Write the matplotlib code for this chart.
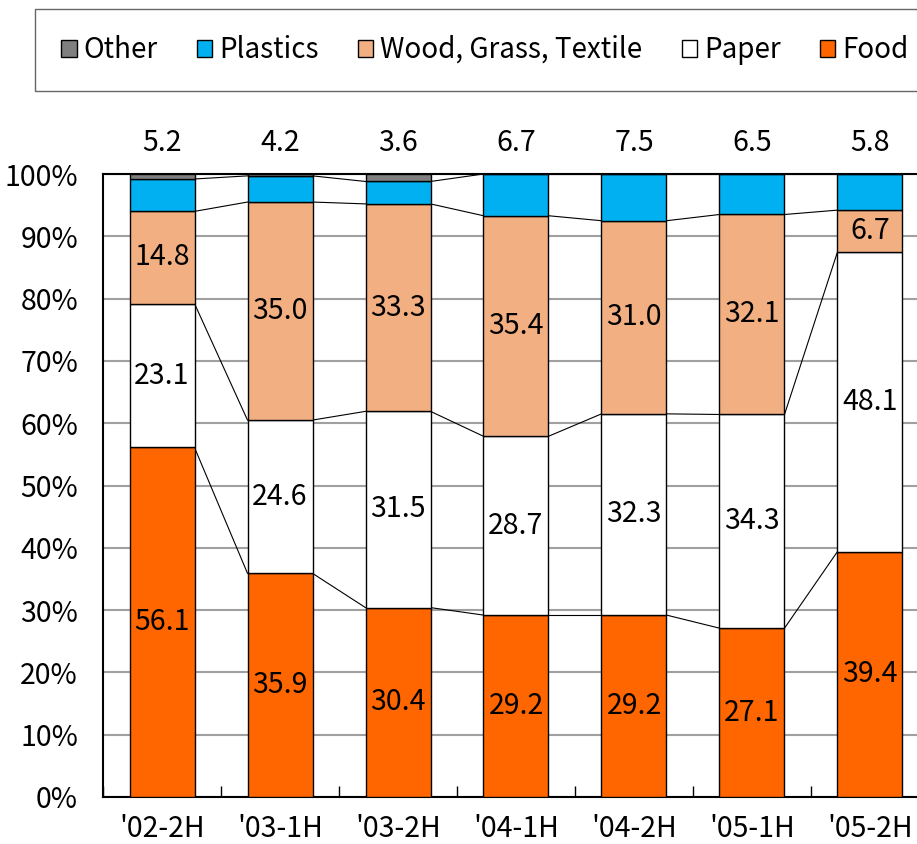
import numpy as np
import matplotlib
matplotlib.use("Agg")
import matplotlib.pyplot as plt
from matplotlib.patches import Patch

plt.rcParams['font.family'] = ['Noto Sans CJK JP', 'DejaVu Sans']

# データ
categories = ["'02-2H", "'03-1H", "'03-2H", "'04-1H", "'04-2H", "'05-1H", "'05-2H"]
food = [56.1, 35.9, 30.4, 29.2, 29.2, 27.1, 39.4]
paper = [23.1, 24.6, 31.5, 28.7, 32.3, 34.3, 48.1]
wood = [14.8, 35.0, 33.3, 35.4, 31.0, 32.1, 6.7]
plastics = [5.2, 4.2, 3.6, 6.7, 7.5, 6.5, 5.8]
other = [0.8, 0.3, 1.2, 0.0, 0.0, 0.0, 0.0]

series = [("Food", food, "#FF6600"),
          ("Paper", paper, "#FFFFFF"),
          ("Wood, Grass, Textile", wood, "#F1AF82"),
          ("Plastics", plastics, "#00B0F0"),
          ("Other", other, "#7F7F7F")]

fig = plt.figure(figsize=(9.17, 8.44), dpi=100)
ax = fig.add_axes([103 / 917, 1 - 797 / 844, 826 / 917, 623 / 844])

x = np.arange(len(categories))
width = 65 / 118
bottom = np.zeros(len(categories))
tops = []
for name, vals, color in series:
    vals = np.array(vals)
    ax.bar(x, vals, width, bottom=bottom, color=color, edgecolor="black",
           linewidth=1.0, zorder=3)
    if name in ("Food", "Paper", "Wood, Grass, Textile"):
        for xi, b, v in zip(x, bottom, vals):
            ax.text(xi, b + v / 2, f"{v:.1f}", ha="center", va="center",
                    fontsize=20.5, zorder=4)
    bottom = bottom + vals
    tops.append(bottom.copy())

# 系列線
for t in tops[:-1]:
    for i in range(len(categories) - 1):
        ax.plot([x[i] + width / 2, x[i + 1] - width / 2], [t[i], t[i + 1]],
                color="black", linewidth=0.8, zorder=2)

# プラスチックの数値を上に表示
for xi, v in zip(x, plastics):
    ax.text(xi, 105, f"{v:.1f}", ha="center", va="center", fontsize=20.5,
            clip_on=False)

ax.set_xlim(-0.5, len(categories) - 0.5)
ax.set_ylim(0, 100)
ax.set_yticks(np.arange(0, 101, 10))
ax.set_yticklabels([f"{v}%" for v in range(0, 101, 10)], fontsize=20.5)
ax.set_xticks(x)
ax.set_xticklabels(categories, fontsize=20.5)
ax.set_xticks(np.arange(-0.5, len(categories), 1), minor=True)
ax.tick_params(axis="x", which="major", length=0, pad=12)
ax.tick_params(axis="x", which="minor", direction="in", length=8, width=1)
ax.tick_params(axis="y", length=0, pad=18)
ax.yaxis.grid(True, color="#A0A0A0", linewidth=1.5, zorder=0)
ax.set_axisbelow(True)
for s in ax.spines.values():
    s.set_linewidth(1.5)
    s.set_color("black")

handles = [Patch(facecolor=c, edgecolor="black", label=n) for n, _, c in series[::-1]]
leg = fig.legend(handles=handles, loc="center left", mode="expand",
                 bbox_to_anchor=(35 / 917, 1 - 93 / 844, 900 / 917, 86 / 844),
                 ncol=5, fontsize=20,
                 frameon=True, fancybox=False, edgecolor="#404040",
                 handlelength=0.55, handleheight=0.55, handletextpad=0.25,
                 columnspacing=1.0, borderpad=0.95, borderaxespad=0)
leg.get_frame().set_linewidth(1.0)

fig.savefig("out.png", dpi=100)
